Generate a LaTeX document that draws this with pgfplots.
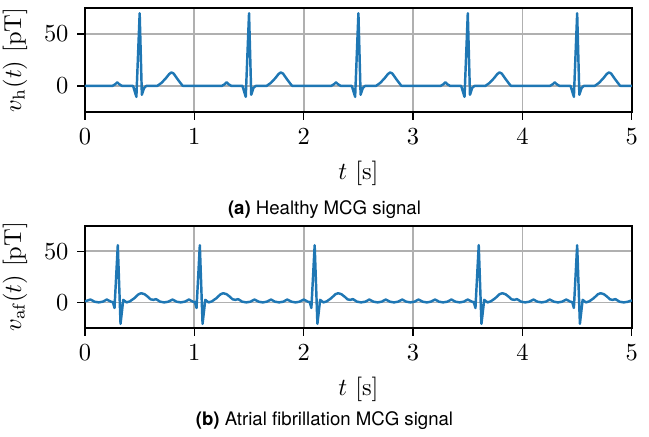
\documentclass[border=0pt]{standalone}
\usepackage{fontspec}
\newfontfamily\capfont{TeX Gyre Heros}
\usepackage{pgfplots}
\pgfplotsset{compat=1.18}
\definecolor{mplblue}{HTML}{1F77B4}
\definecolor{mplgrid}{HTML}{B0B0B0}
\pgfplotsset{ecg/.style={
    scale only axis, width=223.3pt,
    xmin=0, xmax=5, ymin=-25, ymax=75,
    xtick={0,...,5}, ytick={0,50},
    tick align=outside, tick pos=left,
    major tick length=3.2pt,
    every tick/.style={black, line width=0.5pt},
    axis line style={line width=0.6pt},
    grid=major, grid style={mplgrid, line width=0.7pt},
    xlabel={$t$ [s]},
}}
\tikzset{sig/.style={mplblue, line width=1pt, no marks, line join=round}}

\begin{document}
\begin{tikzpicture}
\path[use as bounding box] (-34.7pt,3.3pt) rectangle (230.3pt,-175.1pt);

% healthy beat: P, QRS, T every second
\begin{axis}[ecg, height=42.4pt, at={(0,0)}, anchor=north west,
    ylabel={$v_{\mathrm{h}}(t)$ [pT]}]
\addplot[sig] coordinates {
(0,0) (0.25,0) (0.275,1.5) (0.295,3.5) (0.315,1.5) (0.34,0) (0.44,0) (0.47,-10.5) (0.5,70) (0.52,-8.5) (0.54,-2) (0.56,0) (0.66,0) (0.7,3) (0.74,7.5) (0.77,11.5) (0.79,13) (0.81,12) (0.85,6) (0.89,0.5) (0.9,0)
(1,0) (1.25,0) (1.275,1.5) (1.295,3.5) (1.315,1.5) (1.34,0) (1.44,0) (1.47,-10.5) (1.5,70) (1.52,-8.5) (1.54,-2) (1.56,0) (1.66,0) (1.7,3) (1.74,7.5) (1.77,11.5) (1.79,13) (1.81,12) (1.85,6) (1.89,0.5) (1.9,0)
(2,0) (2.25,0) (2.275,1.5) (2.295,3.5) (2.315,1.5) (2.34,0) (2.44,0) (2.47,-10.5) (2.5,70) (2.52,-8.5) (2.54,-2) (2.56,0) (2.66,0) (2.7,3) (2.74,7.5) (2.77,11.5) (2.79,13) (2.81,12) (2.85,6) (2.89,0.5) (2.9,0)
(3,0) (3.25,0) (3.275,1.5) (3.295,3.5) (3.315,1.5) (3.34,0) (3.44,0) (3.47,-10.5) (3.5,70) (3.52,-8.5) (3.54,-2) (3.56,0) (3.66,0) (3.7,3) (3.74,7.5) (3.77,11.5) (3.79,13) (3.81,12) (3.85,6) (3.89,0.5) (3.9,0)
(4,0) (4.25,0) (4.275,1.5) (4.295,3.5) (4.315,1.5) (4.34,0) (4.44,0) (4.47,-10.5) (4.5,70) (4.52,-8.5) (4.54,-2) (4.56,0) (4.66,0) (4.7,3) (4.74,7.5) (4.77,11.5) (4.79,13) (4.81,12) (4.85,6) (4.89,0.5) (4.9,0)
(5,0)
};
\end{axis}
\node[font=\capfont\fontsize{7.6}{9}\selectfont] at (97.8pt,-82.3pt) {\textbf{(a)} Healthy MCG signal};

% atrial fibrillation: irregular QRS, f-waves in between
\begin{axis}[ecg, height=41.7pt, at={(0,-88.9pt)}, anchor=north west,
    ylabel={$v_{\mathrm{af}}(t)$ [pT]}]
\addplot[sig] coordinates {
(0,1.0) (0.05,2.8) (0.0875,0.7) (0.125,0) (0.1625,0.7) (0.2,2.8) (0.2375,0.7)
(0.255,0.3) (0.27,-5.5) (0.3,56) (0.325,-21) (0.35,2.5) (0.38,0) (0.41,1) (0.45,4) (0.49,8) (0.515,9) (0.545,8) (0.575,5.5) (0.6,3) (0.625,2.5) (0.65,3.2) (0.6875,0.7)
(0.725,0) (0.7625,0.7) (0.8,2.8) (0.8375,0.7) (0.875,0) (0.9125,0.7) (0.95,2.8) (0.9875,0.7)
(1.005,0.3) (1.02,-5.5) (1.05,56) (1.075,-21) (1.1,2.5) (1.13,0) (1.16,1) (1.2,4) (1.24,8) (1.265,9) (1.295,8) (1.325,5.5) (1.35,3) (1.375,2.5) (1.4,3.2) (1.4375,0.7)
(1.475,0) (1.5125,0.7) (1.55,2.8) (1.5875,0.7) (1.625,0) (1.6625,0.7) (1.7,2.8) (1.7375,0.7) (1.775,0) (1.8125,0.7) (1.85,2.8) (1.8875,0.7) (1.925,0) (1.9625,0.7) (2,2.8) (2.0375,0.7)
(2.055,0.3) (2.07,-5.5) (2.1,56) (2.125,-21) (2.15,2.5) (2.18,0) (2.21,1) (2.25,4) (2.29,8) (2.315,9) (2.345,8) (2.375,5.5) (2.4,3) (2.425,2.5) (2.45,3.2) (2.4875,0.7)
(2.525,0) (2.5625,0.7) (2.6,2.8) (2.6375,0.7) (2.675,0) (2.7125,0.7) (2.75,2.8) (2.7875,0.7) (2.825,0) (2.8625,0.7) (2.9,2.8) (2.9375,0.7) (2.975,0) (3.0125,0.7) (3.05,2.8) (3.0875,0.7) (3.125,0) (3.1625,0.7) (3.2,2.8) (3.2375,0.7) (3.275,0) (3.3125,0.7) (3.35,2.8) (3.3875,0.7) (3.425,0) (3.4625,0.7) (3.5,2.8) (3.5375,0.7)
(3.555,0.3) (3.57,-5.5) (3.6,56) (3.625,-21) (3.65,2.5) (3.68,0) (3.71,1) (3.75,4) (3.79,8) (3.815,9) (3.845,8) (3.875,5.5) (3.9,3) (3.925,2.5) (3.95,3.2) (3.9875,0.7)
(4.025,0) (4.0625,0.7) (4.1,2.8) (4.1375,0.7) (4.175,0) (4.2125,0.7) (4.25,2.8) (4.2875,0.7) (4.325,0) (4.3625,0.7) (4.4,2.8) (4.4375,0.7)
(4.455,0.3) (4.47,-5.5) (4.5,56) (4.525,-21) (4.55,2.5) (4.58,0) (4.61,1) (4.65,4) (4.69,8) (4.715,9) (4.745,8) (4.775,5.5) (4.8,3) (4.825,2.5) (4.85,3.2) (4.8875,0.7) (4.925,0) (4.9625,0.6) (5,2)
};
\end{axis}
\node[font=\capfont\fontsize{7.6}{9}\selectfont] at (97.8pt,-168.3pt) {\textbf{(b)} Atrial fibrillation MCG signal};
\end{tikzpicture}
\end{document}
